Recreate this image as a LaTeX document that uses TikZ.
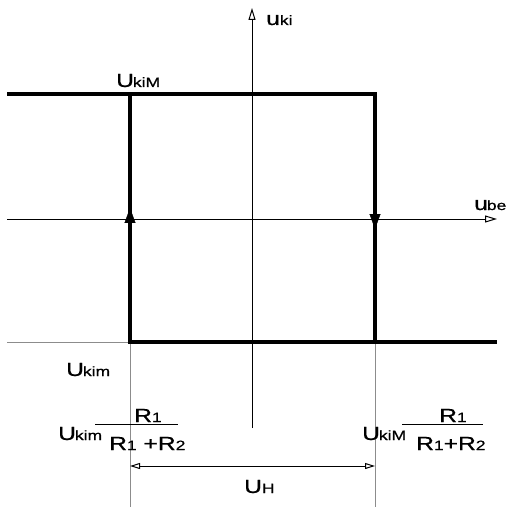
\documentclass[tikz,border=0pt]{standalone}
\usepackage{fontspec}
\setmainfont{Liberation Sans}[FakeStretch=1.3,FakeBold=0.8]
\usetikzlibrary{arrows.meta,decorations.markings}
\newcommand\sbs[1]{{\fontsize{13.5}{13.5}\selectfont #1}}
\begin{document}
\begin{tikzpicture}[x=1bp,y=-1bp,
  axis/.style={line width=1bp,draw=black},
  heavy/.style={line width=3.2bp,draw=black,line join=miter},
  guide/.style={line width=1bp,draw=black!45},
  fracline/.style={line width=1bp,draw=black},
  opentip/.style={-{Triangle[open,length=12bp,width=7bp,fill=white]}},
  dimtips/.style={{Triangle[open,length=10bp,width=6bp,fill=white]}-{Triangle[open,length=10bp,width=6bp,fill=white]}},
  midarrow/.style={postaction={decorate},decoration={markings,mark=at position #1 with {\arrow{Triangle[length=15bp,width=11bp]}}}},
  lbl/.style={inner sep=0pt,anchor=base west,font=\fontsize{19}{19}\selectfont}
]
\useasboundingbox (0,0) rectangle (507,507);
% coordinates
\coordinate (yb) at (252,428);
\coordinate (yt) at (252,8);
\coordinate (xl) at (7,219);
\coordinate (xr) at (497,219);
\coordinate (tl) at (7,94);
\coordinate (a) at (130,94);
\coordinate (b) at (375,94);
\coordinate (c) at (130,342);
\coordinate (d) at (375,342);
\coordinate (br) at (497,342);
\coordinate (gl) at (7,342);
\coordinate (gc) at (130,507);
\coordinate (gd) at (375,507);
\coordinate (hl) at (130,466);
\coordinate (hr) at (375,466);
\coordinate (fl1) at (95,424);
\coordinate (fl2) at (178,424);
\coordinate (fr1) at (402,424);
\coordinate (fr2) at (483,424);
% guides
\draw[guide] (gl) -- (c);
\draw[guide] (c) -- (gc);
\draw[guide] (d) -- (gd);
% axes
\draw[axis,opentip] (yb) -- (yt);
\draw[axis,opentip] (xl) -- (xr);
% hysteresis loop
\draw[heavy] (tl) -- (b) -- (d);
\draw[heavy] (a) -- (c) -- (br);
\path[midarrow=134bp] (c) -- (a);
\path[midarrow=135bp] (b) -- (d);
% dimension
\draw[axis,dimtips] (hl) -- (hr);
% fraction lines
\draw[fracline] (fl1) -- (fl2);
\draw[fracline] (fr1) -- (fr2);
% labels
\node[lbl] (ukiM) at (116,87) {U\kern-1bp\sbs{kiM}};
\node[lbl] (uki) at (266,25) {u\sbs{ki}};
\node[lbl] (ube) at (474,210) {u\kern-1bp\sbs{be}};
\node[lbl] (ukim) at (66,376) {U\kern-1bp\sbs{kim}};
\node[lbl] (fnl) at (58,440) {U\kern-1bp\sbs{kim}};
\node[lbl] (nl) at (134,422) {R\sbs{1}};
\node[lbl] (dl) at (109,450) {R\sbs{1} +R\sbs{2}};
\node[lbl] (fnr) at (362,440) {U\kern-1bp\sbs{kiM}};
\node[lbl] (nr) at (439,422) {R\sbs{1}};
\node[lbl] (dr) at (416,450) {R\sbs{1}+R\sbs{2}};
\node[lbl] (uh) at (244,493) {U\sbs{H}};
\end{tikzpicture}
\end{document}
